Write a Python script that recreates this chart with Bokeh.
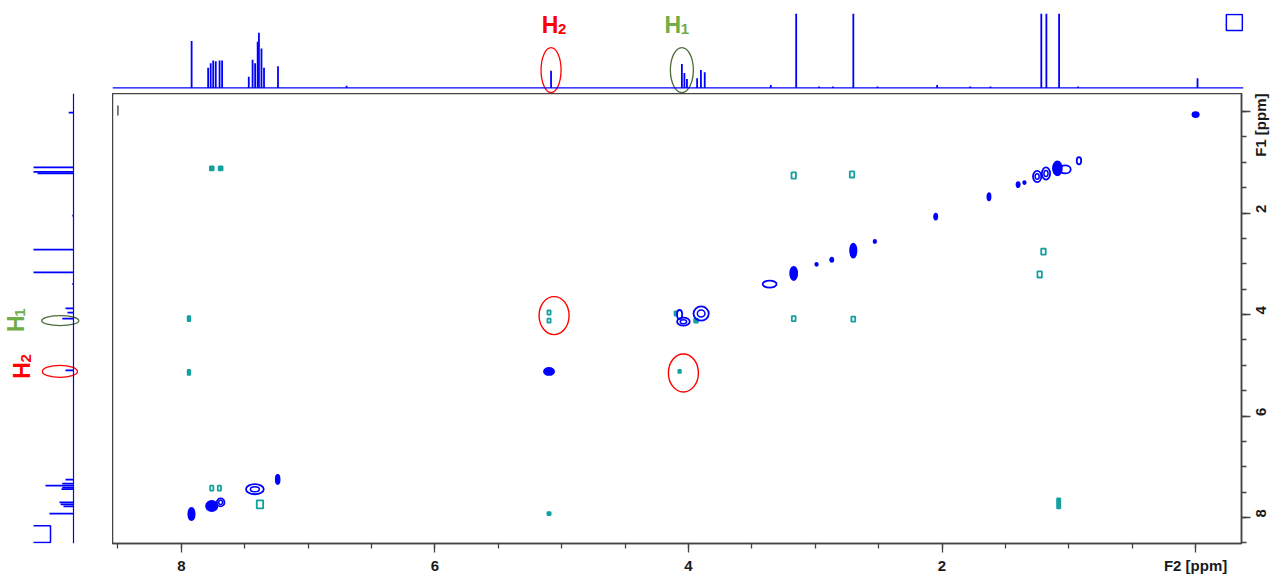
import math
import numpy as np
from bokeh.plotting import figure
from bokeh.layouts import row, column
from bokeh.models import Range1d, Span, FixedTicker, Spacer
from bokeh.core.properties import value
from bokeh.embed import file_html
from bokeh.resources import INLINE

# ---------------- data ----------------
# F2 projection (top): chemical shift (ppm), relative intensity (1.0 = off scale)
top_shift = [7.92, 7.79, 7.77, 7.75, 7.73, 7.70, 7.68, 7.47, 7.44, 7.42, 7.40, 7.39, 7.37, 7.35,
             7.24, 6.70, 5.09, 4.06, 4.04, 4.02, 3.94, 3.91, 3.88, 3.36, 3.16, 2.98, 2.87, 2.71,
             2.52, 2.05, 1.79, 1.63, 1.23, 1.19, 1.09, 0.94, 0.00]
top_int = [0.63, 0.27, 0.33, 0.37, 0.36, 0.37, 0.37, 0.15, 0.38, 0.33, 0.62, 0.74, 0.53, 0.27,
           0.29, 0.03, 0.23, 0.32, 0.20, 0.12, 0.13, 0.24, 0.21, 0.04, 1.0, 0.02, 0.02, 1.0,
           0.02, 0.04, 0.02, 0.02, 1.0, 1.0, 1.0, 0.02, 0.13]

# F1 projection (left)
left_shift = [0.02, 1.10, 1.19, 1.22, 2.05, 2.72, 3.17, 3.40, 3.88, 3.96, 4.08, 5.10,
              7.25, 7.33, 7.37, 7.41, 7.44, 7.70, 7.74, 7.78, 7.92]
left_int = [0.12, 1.0, 1.0, 0.9, 0.03, 1.0, 1.0, 0.03, 0.20, 0.15, 0.28, 0.20,
            0.20, 0.28, 0.70, 0.28, 0.30, 0.35, 0.32, 0.25, 0.60]

# diagonal peaks: F2, F1 (ppm), extent in F2 / F1 (ppm), contour level count
diag_f2 = [0.00, 0.92, 1.09, 1.03, 1.18, 1.25, 1.35, 1.40, 1.63, 2.05, 2.53, 2.70, 2.87, 2.99,
           3.17, 3.36, 3.90, 4.07, 4.04, 5.10, 7.24, 7.42, 7.69, 7.76, 7.92]
diag_f1 = [0.06, 0.97, 1.12, 1.14, 1.22, 1.28, 1.40, 1.44, 1.68, 2.07, 2.56, 2.74, 2.92, 3.01,
           3.19, 3.40, 3.98, 4.00, 4.14, 5.12, 7.25, 7.44, 7.70, 7.77, 7.93]
diag_w = [0.05, 0.035, 0.07, 0.09, 0.065, 0.065, 0.02, 0.025, 0.025, 0.025, 0.02, 0.05, 0.025, 0.02,
          0.055, 0.11, 0.12, 0.04, 0.10, 0.08, 0.03, 0.14, 0.06, 0.09, 0.05]
diag_h = [0.10, 0.14, 0.28, 0.16, 0.24, 0.22, 0.06, 0.10, 0.14, 0.12, 0.06, 0.28, 0.08, 0.06,
          0.26, 0.14, 0.28, 0.18, 0.16, 0.14, 0.18, 0.20, 0.16, 0.20, 0.24]
diag_lvl = [3, 1, 3, 1, 2, 2, 3, 3, 3, 3, 3, 3, 3, 3,
            3, 1, 2, 1, 2, 3, 3, 2, 2, 3, 3]

# cross peaks
cross_f2 = [7.76, 7.69, 3.17, 2.71, 7.94, 7.94, 5.10, 5.10, 4.07, 3.17, 2.70, 1.20, 1.23,
            5.10, 1.08, 7.76, 7.70, 7.38, 4.10, 3.94, 7.92]
cross_f1 = [1.12, 1.12, 1.26, 1.24, 4.08, 5.14, 3.96, 4.12, 5.12, 4.08, 4.09, 2.76, 3.21,
            7.92, 7.72, 7.42, 7.42, 7.74, 3.98, 4.12, 8.00]
cross_w = [0.03, 0.03, 0.035, 0.035, 0.02, 0.02, 0.025, 0.025, 0.02, 0.03, 0.03, 0.035, 0.035,
           0.025, 0.025, 0.025, 0.025, 0.05, 0.02, 0.03, 0.03]
cross_h = [0.08, 0.08, 0.12, 0.12, 0.10, 0.10, 0.08, 0.08, 0.06, 0.10, 0.10, 0.12, 0.12,
           0.06, 0.20, 0.10, 0.10, 0.16, 0.08, 0.08, 0.06]
cross_lvl = [3, 3, 1, 1, 3, 3, 1, 1, 3, 1, 1, 1, 1,
             3, 3, 1, 1, 1, 3, 3, 1]

# axes
x_ticks = [8, 6, 4, 2, 0]
y_ticks = [0, 2, 4, 6, 8]
x_title = "F2 [ppm]"
y_title = "F1 [ppm]"

# highlighted signals
sig_names = ["H", "H"]
sig_subs = ["2", "1"]
sig_shift = [5.09, 4.06]
sig_f1 = [5.10, 4.08]
cross_hl_f2 = [5.06, 4.04]
cross_hl_f1 = [4.02, 5.15]

# ---------------- style ----------------
BLUE = "#0000ff"
TEAL = "#13a0a0"
RED = "#ff0000"
GREEN = "#70ad47"
DKGREEN = "#4f6b3a"
AXC = "#444444"
FONT = "Liberation Sans"

xr = Range1d(8.543, -0.362)
yr = Range1d(8.51, -0.355)


def clean(p):
    p.grid.visible = False
    p.background_fill_color = "white"
    p.border_fill_color = "white"


# ---------------- main 2D plot ----------------
main = figure(width=1168, height=483, x_range=xr, y_range=yr, output_backend="svg",
              toolbar_location=None, y_axis_location="right",
              min_border_left=0, min_border_right=37, min_border_top=0, min_border_bottom=33)
clean(main)
main.outline_line_color = AXC
main.outline_line_width = 1.5

xa = main.xaxis[0]
xa.ticker = FixedTicker(ticks=x_ticks, minor_ticks=list(np.arange(0, 8.51, 0.5)))
xa.major_label_overrides = {0: x_title}
ya = main.yaxis[0]
ya.ticker = FixedTicker(ticks=y_ticks, minor_ticks=list(np.arange(0, 8.51, 0.5)))
ya.major_label_overrides = {0: y_title}
ya.major_label_orientation = math.pi / 2
for a in (xa, ya):
    a.axis_line_color = AXC
    a.axis_line_width = 1.5
    a.major_tick_line_color = AXC
    a.minor_tick_line_color = AXC
    a.major_tick_line_width = 1.3
    a.minor_tick_line_width = 1.3
    a.major_tick_in = 0
    a.major_tick_out = 9
    a.minor_tick_in = 0
    a.minor_tick_out = 5
    a.major_label_text_font = FONT
    a.major_label_text_font_style = "bold"
    a.major_label_text_font_size = "15px"
    a.major_label_text_color = "#1a1a1a"
xa.major_label_standoff = 4
ya.major_label_standoff = 10


def draw_peaks(p, f2, f1, w, h, lvl, color, shape):
    f2 = np.array(f2); f1 = np.array(f1); w = np.array(w); h = np.array(h); lvl = np.array(lvl)
    glyph = p.ellipse if shape == "ellipse" else p.rect
    m = lvl < 3
    glyph(x=f2[m], y=f1[m], width=w[m], height=h[m], fill_color=None,
          line_color=color, line_width=1.8)
    m = lvl == 3
    glyph(x=f2[m], y=f1[m], width=w[m], height=h[m], fill_color=color,
          line_color=color, line_width=1.8)
    m = lvl == 2
    glyph(x=f2[m], y=f1[m], width=w[m] * 0.5, height=h[m] * 0.5, fill_color=None,
          line_color=color, line_width=1.5)


draw_peaks(main, cross_f2, cross_f1, cross_w, cross_h, cross_lvl, TEAL, "rect")
draw_peaks(main, diag_f2, diag_f1, diag_w, diag_h, diag_lvl, BLUE, "ellipse")

# small black mark in the corner
main.segment(x0=[8.50], y0=[-0.12], x1=[8.50], y1=[0.08], line_color="black", line_width=1)

# highlight ellipses around cross peaks
main.ellipse(x=cross_hl_f2, y=cross_hl_f1, width=30, height=38, width_units="screen",
             height_units="screen", fill_color=None, line_color=RED, line_width=1.4)

# ---------------- top projection ----------------
top = figure(width=1168, height=93, x_range=xr, y_range=Range1d(-0.075, 1.0),
             output_backend="svg", toolbar_location=None, x_axis_location=None,
             y_axis_location=None, min_border_left=0, min_border_right=37,
             min_border_top=13, min_border_bottom=0)
clean(top)
top.outline_line_color = None
top.add_layout(Span(location=0, dimension="width", line_color=BLUE, line_width=1.2))
top.segment(x0=top_shift, y0=[0] * len(top_shift), x1=top_shift, y1=top_int,
            line_color=BLUE, line_width=1.8)
top.ellipse(x=sig_shift, y=[0.24, 0.24], width=[20, 23], height=45, width_units="screen",
            height_units="screen", fill_color=None, line_color=[RED, DKGREEN], line_width=1.3)
top.text(x=sig_shift, y=[1.0, 1.0], text=sig_names, x_offset=[-1, -9], y_offset=[11, 11],
         text_color=[RED, GREEN], text_font=value(FONT), text_font_style="bold",
         text_font_size="23px", text_align="center", text_baseline="middle")
top.text(x=sig_shift, y=[1.0, 1.0], text=sig_subs, x_offset=[11, 3], y_offset=[15, 15],
         text_color=[RED, GREEN], text_font=value(FONT), text_font_style="bold",
         text_font_size="15px", text_align="center", text_baseline="middle")
top.scatter(x=[-0.29], y=[0.88], marker="square", size=16, fill_color=None,
            line_color=BLUE, line_width=1.5)

# ---------------- left projection ----------------
left = figure(width=112, height=483, x_range=Range1d(1.825, -0.975), y_range=yr,
              output_backend="svg", toolbar_location=None, x_axis_location=None,
              y_axis_location=None, min_border_left=0, min_border_right=0,
              min_border_top=0, min_border_bottom=33)
clean(left)
left.outline_line_color = None
left.add_layout(Span(location=0, dimension="height", line_color=BLUE, line_width=1.2))
left.segment(x0=[0] * len(left_shift), y0=left_shift, x1=left_int, y1=left_shift,
             line_color=BLUE, line_width=1.8)
left.ellipse(x=[0.33, 0.34], y=[4.12, 5.12], width=[37, 35], height=[10, 12],
             width_units="screen", height_units="screen", fill_color=None,
             line_color=[DKGREEN, RED], line_width=1.3)
left.text(x=[1.825, 1.825], y=sig_f1, text=sig_names, x_offset=[21, 15], y_offset=[0, 5],
          angle=math.pi / 2, text_color=[RED, GREEN], text_font=value(FONT),
          text_font_style="bold", text_font_size="23px", text_align="center",
          text_baseline="middle")
left.text(x=[1.825, 1.825], y=sig_f1, text=sig_subs, x_offset=[25, 19], y_offset=[-12, -6],
          angle=math.pi / 2, text_color=[RED, GREEN], text_font=value(FONT),
          text_font_style="bold", text_font_size="15px", text_align="center",
          text_baseline="middle")
left.multi_line(xs=[[1.0, 0.575, 0.575, 1.0]], ys=[[8.16, 8.16, 8.49, 8.49]],
                line_color=BLUE, line_width=1.5)

layout = column(row(Spacer(width=112, height=93), top), row(left, main))
open("out.html", "w").write(file_html(layout, INLINE))
